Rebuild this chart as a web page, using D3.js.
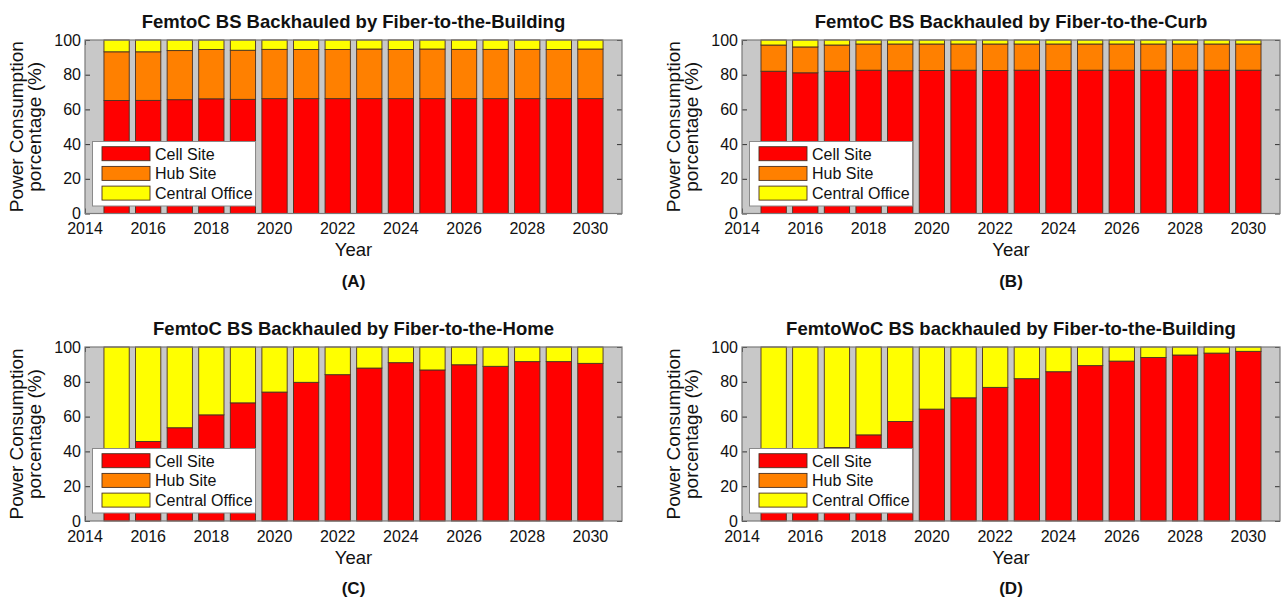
<!DOCTYPE html>
<html>
<head>
<meta charset="utf-8">
<script src="https://cdn.jsdelivr.net/npm/d3@7"></script>
<style>
  html, body { margin: 0; padding: 0; background: #ffffff; }
  svg { display: block; font-family: "Liberation Sans", Arial, Helvetica, sans-serif; }
</style>
</head>
<body>
<svg id="chart" width="1282" height="601"></svg>
<script>
// ---------------- DATA ----------------
const years = [2015, 2016, 2017, 2018, 2019, 2020, 2021, 2022, 2023, 2024, 2025, 2026, 2027, 2028, 2029, 2030];
const xTickValues = [2014, 2016, 2018, 2020, 2022, 2024, 2026, 2028, 2030];
const yTickValues = [0, 20, 40, 60, 80, 100];
const seriesNames = ["Cell Site", "Hub Site", "Central Office"];
const seriesColors = ["#ff0000", "#ff8000", "#ffff00"];

const titles = [
  "FemtoC BS Backhauled by Fiber-to-the-Building",
  "FemtoC BS Backhauled by Fiber-to-the-Curb",
  "FemtoC BS Backhauled by Fiber-to-the-Home",
  "FemtoWoC BS backhauled by Fiber-to-the-Building"
];
const panelLabels = ["(A)", "(B)", "(C)", "(D)"];
const xAxisLabel = "Year";
const yAxisLabelLines = ["Power Consumption", "porcentage (%)"];

// Panel A
const cellA    = [65.1, 65.2, 65.6, 66.1, 65.8, 66.2, 66.2, 66.2, 66.2, 66.2, 66.2, 66.2, 66.2, 66.2, 66.2, 66.2];
const hubA     = [28.1, 28.0, 28.3, 28.4, 28.3, 28.4, 28.3, 28.3, 28.6, 28.3, 28.6, 28.4, 28.4, 28.4, 28.3, 28.6];
const centralA = [6.8, 6.8, 6.1, 5.5, 5.9, 5.4, 5.5, 5.5, 5.2, 5.5, 5.2, 5.4, 5.4, 5.4, 5.5, 5.2];
// Panel B
const cellB    = [82.0, 81.1, 82.0, 82.6, 82.3, 82.4, 82.6, 82.4, 82.6, 82.4, 82.6, 82.6, 82.6, 82.6, 82.6, 82.6];
const hubB     = [15.1, 14.9, 15.1, 15.1, 15.4, 15.3, 15.1, 15.3, 15.1, 15.3, 15.1, 15.1, 15.1, 15.1, 15.1, 15.1];
const centralB = [2.9, 4.0, 2.9, 2.3, 2.3, 2.3, 2.3, 2.3, 2.3, 2.3, 2.3, 2.3, 2.3, 2.3, 2.3, 2.3];
// Panel C
const cellC    = [38.0, 45.7, 53.6, 61.0, 67.9, 74.1, 79.7, 84.1, 87.9, 91.0, 86.8, 89.8, 88.9, 91.6, 91.6, 90.6];
const hubC     = [0, 0, 0, 0, 0, 0, 0, 0, 0, 0, 0, 0, 0, 0, 0, 0];
const centralC = [62.0, 54.3, 46.4, 39.0, 32.1, 25.9, 20.3, 15.9, 12.1, 9.0, 13.2, 10.2, 11.1, 8.4, 8.4, 9.4];
// Panel D
const cellD    = [28.0, 35.0, 42.2, 49.5, 57.2, 64.3, 70.8, 76.8, 81.8, 85.8, 89.3, 91.9, 94.0, 95.4, 96.5, 97.5];
const hubD     = [0, 0, 0, 0, 0, 0, 0, 0, 0, 0, 0, 0, 0, 0, 0, 0];
const centralD = [72.0, 65.0, 57.8, 50.5, 42.8, 35.7, 29.2, 23.2, 18.2, 14.2, 10.7, 8.1, 6.0, 4.6, 3.5, 2.5];

const panelSeries = [
  [cellA, hubA, centralA],
  [cellB, hubB, centralB],
  [cellC, hubC, centralC],
  [cellD, hubD, centralD]
];

// ---------------- LAYOUT ----------------
const panelBoxes = [
  { left: 85,  right: 622,  top: 40,  bottom: 213.5 },
  { left: 742, right: 1280, top: 40,  bottom: 213.5 },
  { left: 85,  right: 622,  top: 347, bottom: 521 },
  { left: 742, right: 1280, top: 347, bottom: 521 }
];

const svg = d3.select("#chart");

panelBoxes.forEach((box, pi) => {
  const g = svg.append("g");
  const x = d3.scaleLinear().domain([2014, 2031]).range([box.left, box.right]);
  const y = d3.scaleLinear().domain([0, 100]).range([box.bottom, box.top]);
  const barW = x(2014.8) - x(2014);

  // background
  g.append("rect")
    .attr("x", box.left).attr("y", box.top)
    .attr("width", box.right - box.left).attr("height", box.bottom - box.top)
    .attr("fill", "#c8c8c8");

  // inward ticks (under bars)
  const tickLen = 5;
  const yAxisL = d3.axisRight(y).tickValues(yTickValues).tickSize(tickLen).tickFormat("");
  const yAxisR = d3.axisLeft(y).tickValues(yTickValues).tickSize(tickLen).tickFormat("");
  const xAxisB = d3.axisTop(x).tickValues(xTickValues).tickSize(tickLen).tickFormat("");
  const xAxisT = d3.axisBottom(x).tickValues(xTickValues).tickSize(tickLen).tickFormat("");
  [
    [yAxisL, `translate(${box.left},0)`],
    [yAxisR, `translate(${box.right},0)`],
    [xAxisB, `translate(0,${box.bottom})`],
    [xAxisT, `translate(0,${box.top})`]
  ].forEach(([ax, tr]) => {
    const a = g.append("g").attr("transform", tr).call(ax);
    a.select(".domain").remove();
    a.selectAll("line").attr("stroke", "#333").attr("stroke-width", 1);
  });

  // stacked bars
  const series = panelSeries[pi];
  const rows = years.map((yr, i) => ({ year: yr, s0: series[0][i], s1: series[1][i], s2: series[2][i] }));
  const stack = d3.stack().keys(["s0", "s1", "s2"])(rows);
  stack.forEach((layer, li) => {
    g.append("g").selectAll("rect").data(layer).join("rect")
      .attr("x", d => x(d.data.year) - barW / 2)
      .attr("y", d => y(d[1]))
      .attr("width", barW)
      .attr("height", d => Math.max(0, y(d[0]) - y(d[1])))
      .attr("fill", seriesColors[li])
      .attr("stroke", "#4a3020")
      .attr("stroke-width", 0.9);
  });

  // frame
  g.append("rect")
    .attr("x", box.left).attr("y", box.top)
    .attr("width", box.right - box.left).attr("height", box.bottom - box.top)
    .attr("fill", "none").attr("stroke", "#7a7a7a").attr("stroke-width", 1.2);

  // tick labels
  g.append("g").selectAll("text").data(yTickValues).join("text")
    .attr("x", box.left - 4).attr("y", d => y(d))
    .attr("text-anchor", "end").attr("dominant-baseline", "central")
    .attr("font-size", 16).attr("fill", "#111")
    .text(d => d);
  g.append("g").selectAll("text").data(xTickValues).join("text")
    .attr("x", d => x(d)).attr("y", box.bottom + 15)
    .attr("text-anchor", "middle").attr("dominant-baseline", "central")
    .attr("font-size", 16).attr("fill", "#111")
    .text(d => d);

  const cx = (box.left + box.right) / 2;
  const cy = (box.top + box.bottom) / 2;

  // title
  g.append("text")
    .attr("x", cx).attr("y", box.top - 19)
    .attr("text-anchor", "middle").attr("dominant-baseline", "central")
    .attr("font-size", 18.5).attr("font-weight", "bold").attr("fill", "#111")
    .text(titles[pi]);

  // x axis label
  g.append("text")
    .attr("x", cx).attr("y", box.bottom + 36)
    .attr("text-anchor", "middle").attr("dominant-baseline", "central")
    .attr("font-size", 18.5).attr("fill", "#111")
    .text(xAxisLabel);

  // panel label
  g.append("text")
    .attr("x", cx).attr("y", box.bottom + 67.5)
    .attr("text-anchor", "middle").attr("dominant-baseline", "central")
    .attr("font-size", 17).attr("font-weight", "bold").attr("fill", "#111")
    .text(panelLabels[pi]);

  // y axis label (two lines)
  yAxisLabelLines.forEach((line, li) => {
    const lx = box.left - 69 + li * 18.5;
    g.append("text")
      .attr("transform", `translate(${lx},${cy}) rotate(-90)`)
      .attr("text-anchor", "middle").attr("dominant-baseline", "central")
      .attr("font-size", 19).attr("fill", "#111")
      .text(line);
  });

  // legend
  const lg = g.append("g");
  lg.append("rect")
    .attr("x", box.left + 7.5).attr("y", box.top + 101.5)
    .attr("width", 163).attr("height", 64.5)
    .attr("fill", "#ffffff").attr("stroke", "#8a8a8a").attr("stroke-width", 1);
  seriesNames.forEach((name, si) => {
    const ry = box.top + 106.7 + si * 19.7;
    lg.append("rect")
      .attr("x", box.left + 17).attr("y", ry)
      .attr("width", 48).attr("height", 14)
      .attr("fill", seriesColors[si]).attr("stroke", "#4a3020").attr("stroke-width", 0.9);
    lg.append("text")
      .attr("x", box.left + 70).attr("y", ry + 7.5)
      .attr("dominant-baseline", "central")
      .attr("font-size", 16).attr("fill", "#111")
      .text(name);
  });
});
</script>
</body>
</html>
